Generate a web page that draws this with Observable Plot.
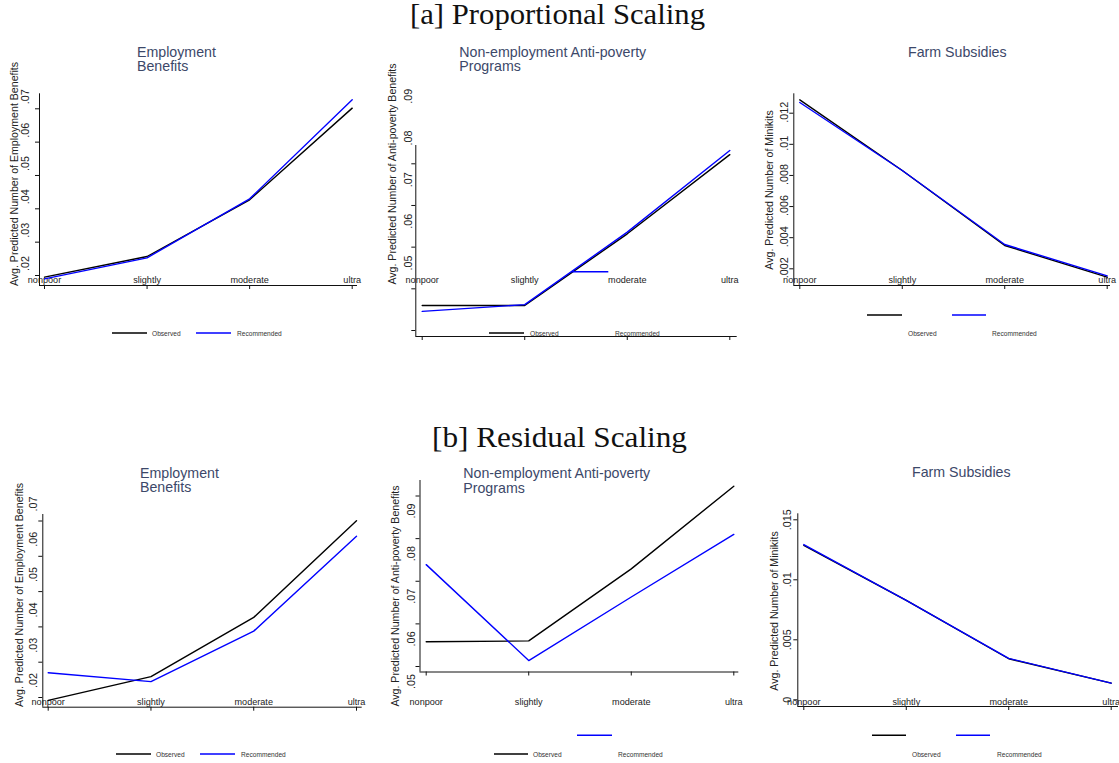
<!DOCTYPE html>
<html><head><meta charset="utf-8">
<script src="https://cdn.jsdelivr.net/npm/d3@7"></script>
<script src="https://cdn.jsdelivr.net/npm/@observablehq/plot@0.6"></script>
<style>
body{margin:0;background:#fff;}
#root{position:relative;width:1119px;height:763px;overflow:hidden;background:#fff;}
#root svg{position:absolute;}
</style></head><body><div id="root"></div>
<script>
// ---------- data ----------
const categories = ["nonpoor", "slightly", "moderate", "ultra"];
const seriesNames = ["Observed", "Recommended"];

// [a] Proportional Scaling
const propEmpObserved     = [0.0195, 0.0257, 0.0427, 0.0702];
const propEmpRecommended  = [0.0190, 0.0253, 0.0430, 0.0727];
const propNonObserved     = [0.0560, 0.0560, 0.0732, 0.0922];
const propNonRecommended  = [0.0546, 0.0562, 0.0736, 0.0932];
const propFarmObserved    = [0.01286, 0.00832, 0.00350, 0.00146];
const propFarmRecommended = [0.01269, 0.00832, 0.00356, 0.00155];

// [b] Residual Scaling
const resEmpObserved      = [0.0192, 0.0259, 0.0427, 0.0701];
const resEmpRecommended   = [0.0270, 0.0245, 0.0388, 0.0657];
const resNonObserved      = [0.0558, 0.0560, 0.0729, 0.0923];
const resNonRecommended   = [0.0739, 0.0514, 0.0663, 0.0810];
const resFarmObserved     = [0.01286, 0.00828, 0.00342, 0.00139];
const resFarmRecommended  = [0.01294, 0.00828, 0.00345, 0.00139];

// tick values and labels
const empTicks = [0.02, 0.03, 0.04, 0.05, 0.06, 0.07];
const empTickLabels = [".02", ".03", ".04", ".05", ".06", ".07"];
const nonTicks = [0.05, 0.06, 0.07, 0.08, 0.09];
const nonTickLabels = [".05", ".06", ".07", ".08", ".09"];
const farmPropTicks = [0.002, 0.004, 0.006, 0.008, 0.01, 0.012];
const farmPropTickLabels = [".002", ".004", ".006", ".008", ".01", ".012"];
const farmResTicks = [0, 0.005, 0.01, 0.015];
const farmResTickLabels = ["0", ".005", ".01", ".015"];

const mainTitles = ["[a] Proportional Scaling", "[b] Residual Scaling"];
const panelTitles = [["Employment", "Benefits"], ["Non-employment Anti-poverty", "Programs"], ["Farm Subsidies"]];
const yTitles = ["Avg. Predicted Number of Employment Benefits", "Avg. Predicted Number of Anti-poverty Benefits", "Avg. Predicted Number of Minikits"];

// ---------- layout ----------
const BLACK = "#000000", BLUE = "#0000ff";
const panels = [
  {obs: propEmpObserved, rec: propEmpRecommended, ticks: empTicks, labels: empTickLabels, title: panelTitles[0], ytitle: yTitles[0],
   box: [0, 80, 373, 270], axL: 39, axT: 93.3, axB: 285, axR: 357, p0: 44, p3: 351.7, yb: 275, yt: 108.3, labX: 25, labDy: -12, catBase: 282.7,
   tX: 137, tY: [56.7, 71], ytX: 14, ytY: 174,
   legend: [["line", BLACK, 112, 147, 333], ["text", "Observed", 152, 333], ["line", BLUE, 196, 231, 333], ["text", "Recommended", 237, 333]]},
  {obs: propNonObserved, rec: propNonRecommended, ticks: nonTicks, labels: nonTickLabels, title: panelTitles[1], ytitle: yTitles[1],
   box: [373, 80, 373, 270], axL: 415.3, axT: 145, axB: 336, axR: 736.7, p0: 421.7, p3: 729.3, yb: 330, yt: 163.3, labX: 408.5, labDy: -67.5, catBase: 282.7,
   tX: 459.3, tY: [56.7, 71], ytX: 391.7, ytY: 174,
   legend: [["line", BLACK, 489, 524, 333], ["text", "Observed", 530, 333], ["text", "Recommended", 615, 333], ["line", BLUE, 571.7, 608.3, 271.7]]},
  {obs: propFarmObserved, rec: propFarmRecommended, ticks: farmPropTicks, labels: farmPropTickLabels, title: panelTitles[2], ytitle: yTitles[2],
   box: [746, 80, 373, 270], axL: 793.3, axT: 93.3, axB: 285, axR: 1110, p0: 799.3, p3: 1106.7, yb: 268.3, yt: 112.7, labX: 784.3, labDy: -1, catBase: 282.7,
   tX: 908, tY: [56.7], ytX: 769.3, ytY: 190,
   legend: [["line", BLACK, 867, 902, 315], ["line", BLUE, 952, 986, 315], ["text", "Observed", 908, 333.7], ["text", "Recommended", 992, 333.7]]},
  {obs: resEmpObserved, rec: resEmpRecommended, ticks: empTicks, labels: empTickLabels, title: panelTitles[0], ytitle: yTitles[0],
   box: [0, 490, 373, 273], axL: 42.3, axT: 514, axB: 706.7, axR: 361.7, p0: 47.7, p3: 356, yb: 697, yt: 520.5, labX: 32.7, labDy: -17, catBase: 704,
   tX: 140, tY: [477.7, 492.3], ytX: 19, ytY: 595,
   legend: [["line", BLACK, 116, 151, 754], ["text", "Observed", 156, 754], ["line", BLUE, 200, 235, 754], ["text", "Recommended", 241, 754]]},
  {obs: resNonObserved, rec: resNonRecommended, ticks: nonTicks, labels: nonTickLabels, title: panelTitles[1], ytitle: yTitles[1],
   box: [373, 490, 373, 273], axL: 419.5, axT: 480, axB: 671.5, axR: 738.3, p0: 425.7, p3: 733.3, yb: 666, yt: 495.5, labX: 411.3, labDy: 15, catBase: 704,
   tX: 463.3, tY: [478, 492.5], ytX: 395, ytY: 596,
   legend: [["line", BLUE, 577, 612, 735.3], ["line", BLACK, 494, 528, 754], ["text", "Observed", 533, 754], ["text", "Recommended", 618, 754]]},
  {obs: resFarmObserved, rec: resFarmRecommended, ticks: farmResTicks, labels: farmResTickLabels, title: panelTitles[2], ytitle: yTitles[2],
   box: [746, 490, 373, 273], axL: 797.3, axT: 513.3, axB: 706, axR: 1118, p0: 803.3, p3: 1110.7, yb: 699.3, yt: 519.3, labX: 786.7, labDy: 0, catBase: 704,
   tX: 912, tY: [477.3], ytX: 773.5, ytY: 611,
   legend: [["line", BLACK, 872, 906, 735.3], ["line", BLUE, 956, 990, 735.3], ["text", "Observed", 912, 754.7], ["text", "Recommended", 997, 754.7]]}
];

const root = document.getElementById("root");
const FONT = "Liberation Sans, Arial, Helvetica, sans-serif";

for (const p of panels) {
  const [left, top, W, H] = p.box;
  const sx = d3.scaleLinear([0, 3], [p.p0, p.p3]);
  const vb = p.ticks[0], vt = p.ticks[p.ticks.length - 1];
  const sy = d3.scaleLinear([vb, vt], [p.yb, p.yt]);
  const data = categories.flatMap((c, i) => [
    {i, cat: c, series: seriesNames[0], v: p.obs[i]},
    {i, cat: c, series: seriesNames[1], v: p.rec[i]}
  ]);
  data.sort((a, b) => seriesNames.indexOf(a.series) - seriesNames.indexOf(b.series));
  const chart = Plot.plot({
    width: W, height: H,
    marginLeft: p.axL - left, marginTop: p.axT - top,
    marginRight: left + W - p.axR, marginBottom: top + H - p.axB,
    x: {type: "linear", domain: [0, 3], range: [p.p0 - left, p.p3 - left]},
    y: {type: "linear", domain: [vb, vt], range: [p.yb - top, p.yt - top]},
    color: {domain: seriesNames, range: [BLACK, BLUE]},
    style: {fontFamily: FONT, background: "transparent", overflow: "visible"},
    marks: [
      Plot.ruleX([sx.invert(p.axL)], {stroke: "#111", strokeWidth: 1}),
      Plot.ruleY([sy.invert(p.axB)], {stroke: "#111", strokeWidth: 1}),
      Plot.axisY({ticks: p.ticks, tickSize: 4, tickFormat: () => "", label: null, stroke: "#111"}),
      Plot.axisY({ticks: p.ticks, tickSize: 0, tickPadding: 0, label: null,
        tickFormat: d => p.labels[p.ticks.indexOf(d)],
        rotate: -90, textAnchor: "middle", lineAnchor: "middle",
        dx: p.labX - p.axL, dy: p.labDy, fontSize: 10.8, fill: "#222"}),
      Plot.axisX({ticks: [0, 1, 2, 3], tickSize: 4, tickFormat: () => "", label: null, stroke: "#111"}),
      Plot.text(categories, {x: (d, i) => i, frameAnchor: "bottom", lineAnchor: "bottom",
        dy: p.catBase - p.axB, fontSize: 9.1, fill: "#222"}),
      Plot.line(data, {x: "i", y: "v", z: "series", stroke: "series", strokeWidth: 1.4})
    ]
  });
  chart.style.left = left + "px";
  chart.style.top = top + "px";
  root.appendChild(chart);
}

// ---------- overlay: titles, axis titles, legends ----------
const ov = d3.select(root).append("svg")
  .attr("width", 1119).attr("height", 763)
  .style("left", "0px").style("top", "0px")
  .style("pointer-events", "none");

ov.append("text").text(mainTitles[0])
  .attr("x", 557.5).attr("y", 23.5).attr("text-anchor", "middle")
  .attr("font-family", "Liberation Serif, Times New Roman, serif").attr("font-size", 28.5)
  .attr("textLength", 295).attr("lengthAdjust", "spacingAndGlyphs").attr("fill", "#111");
ov.append("text").text(mainTitles[1])
  .attr("x", 559.5).attr("y", 447).attr("text-anchor", "middle")
  .attr("font-family", "Liberation Serif, Times New Roman, serif").attr("font-size", 28.5)
  .attr("textLength", 255).attr("lengthAdjust", "spacingAndGlyphs").attr("fill", "#111");

for (const p of panels) {
  p.title.forEach((t, k) => {
    ov.append("text").text(t).attr("x", p.tX).attr("y", p.tY[k])
      .attr("font-family", FONT).attr("font-size", 14.2).attr("fill", "#3c4869");
  });
  ov.append("text").text(p.ytitle)
    .attr("transform", `translate(${p.ytX},${p.ytY}) rotate(-90)`)
    .attr("text-anchor", "middle").attr("dominant-baseline", "central")
    .attr("font-family", FONT).attr("font-size", 10.6).attr("fill", "#222");
  for (const it of p.legend) {
    if (it[0] === "line") {
      ov.append("line").attr("x1", it[2]).attr("x2", it[3]).attr("y1", it[4]).attr("y2", it[4])
        .attr("stroke", it[1]).attr("stroke-width", 1.4);
    } else {
      ov.append("text").text(it[1]).attr("x", it[2]).attr("y", it[3])
        .attr("dominant-baseline", "central")
        .attr("font-family", FONT).attr("font-size", 6.6).attr("fill", "#333");
    }
  }
}
</script>
</body></html>
